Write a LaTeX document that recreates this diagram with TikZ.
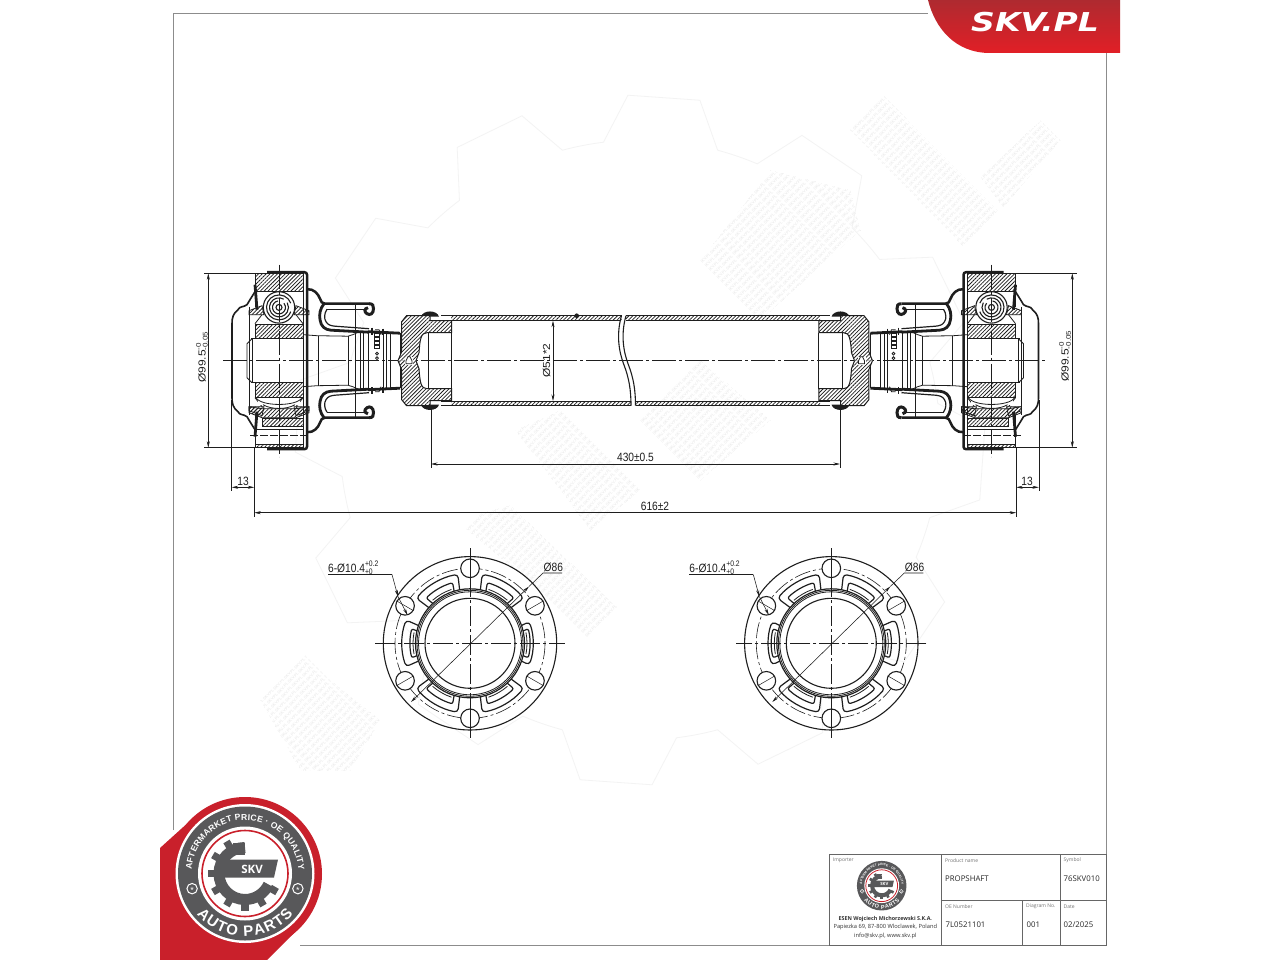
\documentclass[tikz,border=0pt]{standalone}
\usepackage{fontspec}
\setmainfont{Liberation Sans}
\newfontfamily\blockfont{Open Sans}
\newfontfamily\bannerfont{DejaVu Sans}
\usetikzlibrary{arrows.meta,patterns.meta,decorations.text}
\definecolor{ink}{HTML}{1E1E1E}
\definecolor{framegray}{HTML}{8C8C8C}
\definecolor{badgegray}{HTML}{58585A}
\definecolor{badgered}{HTML}{C9202B}
\definecolor{bannerdark}{HTML}{AE2A30}
\definecolor{bannerred}{HTML}{E21F26}
\definecolor{wmgray}{HTML}{E6E6E6}
\definecolor{wmline}{HTML}{F3F3F3}
\tikzset{
  >={Stealth[length=6.5pt,width=3pt]},
  ln/.style={draw=ink,line width=0.8pt},
  heavy/.style={draw=ink,line width=2.5pt},
  hatch/.style={pattern={Lines[angle=45,distance=2.7pt,line width=0.75pt]},pattern color=ink},
  axisline/.style={draw=ink,line width=0.6pt,dash pattern=on 24pt off 3pt on 3pt off 3pt},
  dimline/.style={draw=ink,line width=0.55pt},
  dimlabel/.style={font=\fontsize{12}{12}\selectfont,text=ink,inner sep=0pt,xscale=0.85},
  frameline/.style={draw=framegray,line width=0.8pt},
  caption/.style={font=\blockfont\fontsize{5}{5}\selectfont,text=black!55,anchor=west,inner sep=0pt},
  entry/.style={font=\blockfont\fontsize{7.8}{7.8}\selectfont,text=black!85,anchor=west,inner sep=0pt},
  importer/.style={font=\blockfont\fontsize{5.7}{5.7}\selectfont,text=black!80,inner sep=0pt},
  wmtext/.style={font=\fontsize{4}{4}\selectfont,text=wmgray,inner sep=0pt,rotate=45},
}
\newcommand{\tolpair}[2]{\rlap{\raisebox{5.5pt}{\fontsize{8}{8}\selectfont #1}}\raisebox{-2.5pt}{\fontsize{8}{8}\selectfont #2}}
\newcommand{\wmrow}{SKV.PL SKV.PL SKV.PL SKV.PL SKV.PL SKV.PL SKV.PL SKV.PL SKV.PL SKV.PL SKV.PL SKV.PL SKV.PL SKV.PL SKV.PL SKV.PL SKV.PL SKV.PL SKV.PL SKV.PL SKV.PL SKV.PL SKV.PL SKV.PL}
% one clipped block of the faint background print
\newcommand{\wmpatch}[3]{%
  \begin{scope}
    \clip #3 -- cycle;
    \foreach \k in {-14,...,14}
      \node[wmtext] at ({#1+\k*4},{#2+\k*4}) {\wmrow};
  \end{scope}}
% half of a joint, about the shaft axis; x runs towards the tube
\newcommand{\jointhalf}{%
  \draw[heavy,line width=1.6pt] (-24,-69) -- (-29,-61) -- (-32,-56) .. controls (-36,-53) and (-39,-55) .. (-41,-51) .. controls (-46,-47) and (-47,-43) .. (-47,-37) -- (-47,0);
  \draw[ln] (-30,-54) -- (-30,0);
  \draw[ln] (-24,-69) -- (-24,-54);
  \draw[heavy,line width=2.8pt] (-24,-76) -- (-22,-51);
  \draw[ln] (-32,0) -- (-32,-17) -- (-27,-22);
  \draw[ln] (-27,-22) -- (-27,0);
  \draw[heavy,line width=1.5pt] (-28,-22) -- (25,-22);
  \draw[ln] (24.3,-87) -- (24.3,0);
  \draw[ln] (27,-25) -- (27,0);
  \draw[heavy,rounded corners=2.5pt] (-12,-88.5) -- (28,-88.5) -- (28,0);
  % hub and cage
  \fill[hatch] (-24,-36.7) rectangle (24,-22);
  \draw[ln] (-24,-36.7) rectangle (24,-22);
  \fill[hatch] (-30,-50) -- (-17,-55) -- (-15,-46) -- (-30,-46) -- cycle;
  \draw[ln] (-30,-50) -- (-17,-55) -- (-15,-46) -- (-30,-46) -- cycle;
  \fill[hatch] (30,-50) -- (17,-55) -- (15,-46) -- (30,-46) -- cycle;
  \draw[ln] (30,-50) -- (17,-55) -- (15,-46) -- (30,-46) -- cycle;
  \draw[ln] (-24,-37) -- (-17,-46) (24,-37) -- (17,-46);
  % boot
  \draw[heavy] (28,-71.5) .. controls (35,-72) and (39,-67) .. (41,-62) .. controls (42,-59) and (43,-57) .. (46,-57) -- (90,-57);
  \draw[heavy,line width=3pt] (90,-57) .. controls (94,-57) and (94.5,-55) .. (94.5,-52) .. controls (94.5,-47) and (91,-45) .. (88,-47) .. controls (85,-49) and (85,-52) .. (89,-53);
  \draw[heavy,line width=2.8pt] (45,-57) .. controls (41,-52) and (40,-46) .. (41,-41) .. controls (42,-34) and (46,-31) .. (52,-30.5) -- (90,-28.5);
  \draw[ln] (48,-51.5) -- (86,-51.5);
  \draw[ln,line width=1.2pt] (48,-51.5) .. controls (45,-47) and (45,-42) .. (47,-39) .. controls (49,-35.5) and (52,-35) .. (56,-34.5) -- (90,-32);
  \draw[heavy,line width=2.8pt] (89,-29) -- (121,-27.5);
  % shaft neck
  \draw[ln] (24.3,-26) -- (38,-25) -- (69,-24.5) .. controls (73,-25) and (75,-27) .. (81,-29);
  \foreach \lx/\ly in {39/25,69/24.5,76/57,81/29,84/29,89/29,104/28,107.5/28,111/28,121/27.5}
    \draw[ln] (\lx,-\ly) -- (\lx,0);
  \draw[heavy,line width=1.6pt] (93,-33) -- (93,-26);
  \draw[heavy,line width=1.6pt] (104,-32) -- (104,-26);
  \draw[ln] (96,-31) -- (100,-31) -- (102,-26);
  % weld bead, behind the yoke
  \fill[ink] (142,-44) .. controls (144,-51) and (158,-51) .. (160,-44) -- cycle;
  % yoke
  \fill[white] (119,0) -- (122.7,-9) -- (122.7,-39) -- (127.5,-45) -- (151,-45) -- (151,-40) -- (172.7,-40) -- (172.7,-28) -- (148,-28) .. controls (142,-28) and (141,-22) .. (140,-8) -- (137,0) -- cycle;
  \fill[hatch] (119,0) -- (122.7,-9) -- (122.7,-39) -- (127.5,-45) -- (151,-45) -- (151,-40) -- (172.7,-40) -- (172.7,-28) -- (148,-28) .. controls (142,-28) and (141,-22) .. (140,-8) -- (137,0) -- cycle;
  \draw[ln,line width=1pt] (119,0) -- (122.7,-9) -- (122.7,-39) -- (127.5,-45) -- (151,-45) -- (151,-40) -- (172.7,-40) -- (172.7,-28) -- (148,-28) .. controls (142,-28) and (141,-22) .. (140,-8) -- (137,0);
  \draw[ln] (149.3,-28) -- (149.3,0);
  \draw[ln] (172.7,-28) -- (172.7,0);
}
% complete joint, both halves and the parts that differ
\newcommand{\jointend}{%
  \jointhalf
  \begin{scope}[yscale=-1]
    \jointhalf
  \end{scope}
  % top: hatched block and ball
  \fill[hatch] (-24,-87) rectangle (24,-69);
  \draw[ln] (-24,-87) rectangle (24,-69);
  \fill[white] (0,-53.3) circle[radius=15.7];
  \draw[ln,line width=1.1pt] (0,-53.3) circle[radius=15.7];
  \draw[ln,line width=1.1pt] (0,-53.3) ++(20:12.5pt) arc[start angle=20,end angle=340,radius=12.5pt];
  \draw[ln,line width=1.1pt] (0,-53.3) ++(60:9.5pt) arc[start angle=60,end angle=390,radius=9.5pt];
  \draw[ln,line width=1.1pt] (0,-53.3) ++(100:6.5pt) arc[start angle=100,end angle=400,radius=6.5pt];
  \draw[ln,line width=1.1pt] (0,-53.3) circle[radius=3];
  % bottom: ball seat and bolt bore
  \fill[white] (-21,38) rectangle (21,44);
  \draw[ln] (-23,37) .. controls (-18,46) and (18,46) .. (23,37);
  \draw[ln] (-16,44) .. controls (-8,49) and (8,49) .. (16,44);
  \fill[hatch] (-30,46) -- (-17,48) -- (17,48) -- (30,46) -- (30,52) -- (17,57) -- (-17,57) -- (-30,52) -- cycle;
  \draw[ln] (-30,46) -- (-17,48) -- (17,48) -- (30,46) -- (30,52) -- (17,57) -- (-17,57) -- (-30,52) -- cycle;
  \fill[hatch] (-17,58) rectangle (24,66);
  \draw[ln] (-17,58) rectangle (24,66);
  \draw[ln] (-24,69) -- (24,69);
  \draw[ln,dash pattern=on 8pt off 2pt] (-29,74.3) -- (28,74.3);
  \fill[hatch] (-24,84) rectangle (24,87);
  \draw[ln] (-24,69) -- (-24,87) -- (24,87) -- (24,84) -- (-24,84);
  % vent and grease marks
  \fill[white] (126,-4) rectangle (134,4);
  \draw[ln] (129,-4) -- (131,-4) -- (133,0) -- (133,3) -- (127,3) -- (127,0) -- cycle;
  \foreach \my in {-2.5,-7}
    \draw[ln] (98,\my) circle[radius=1.4];
  \foreach \my in {-12,-16,-20,-24}
    \draw[ln] (95.5,\my) rectangle (100.5,\my-3);
  \draw[axisline] (0,-96) -- (0,96);
}
% end view of the flange
\newcommand{\flangeview}[3]{%
  \begin{scope}[xshift=#2pt]
    \begin{scope}[shift={(470,643.3)},xscale=#3]
      \draw[ln,line width=1.1pt] (0,0) circle[radius=86.7];
      \draw[axisline,dash pattern=on 16pt off 3pt on 3pt off 3pt] (0,0) circle[radius=75];
      \foreach \a in {30,90,...,330} {
        \fill[white] (\a:75pt) circle[radius=9.3pt];
        \draw[ln,line width=1.1pt] (\a:75pt) circle[radius=9.3pt];
        \draw[ln,line width=0.5pt] (\a:65pt) -- (\a:85pt);
      }
      \foreach \a/\ro/\ri in {0/63/60,60/70/63,120/70/63,180/68/60,240/70/63,300/70/63} {
        \begin{scope}[rotate=\a]
          \draw[ln,line width=1.2pt,rounded corners=3.5pt] (-19:54pt) -- (-20:\ro pt) arc[start angle=-20,end angle=20,radius=\ro pt] -- (19:54pt);
          \draw[ln,line width=1.2pt,rounded corners=2pt] (-13:54pt) -- (-14:\ri pt) arc[start angle=-14,end angle=14,radius=\ri pt] -- (13:54pt);
          \draw[ln] (-11:57pt) arc[start angle=-11,end angle=11,radius=57pt];
        \end{scope}
      }
      \fill[white] (0,0) circle[radius=54.5];
      \draw[ln,line width=1.2pt] (0,0) circle[radius=54.5];
      \draw[ln] (0,0) circle[radius=53];
      \draw[ln] (0,0) circle[radius=51.5];
      \draw[ln,line width=1.1pt] (0,0) circle[radius=45];
      \draw[axisline,dash pattern=on 20pt off 3pt on 3pt off 3pt] (-95,0) -- (95,0);
      \draw[axisline,dash pattern=on 20pt off 3pt on 3pt off 3pt] (0,-95) -- (0,95);
    \end{scope}
    \node[dimlabel,anchor=base west] (#1holelabel) at (328,572) {6-Ø10.4\tolpair{+0.2}{+0}};
    \coordinate (#1holeturn) at (392,574.5);
    \coordinate (#1holetop) at (398,596.5);
    \coordinate (#1holebottom) at (407.5,615);
    \draw[dimline] (328,574.5) -- (#1holeturn);
    \draw[dimline,->] (#1holeturn) -- (#1holetop);
    \draw[dimline,->] (#1holetop) -- (#1holebottom);
    \node[dimlabel,anchor=base west] (#1boltlabel) at (543.5,571) {Ø86};
    \coordinate (#1boltturn) at (543,573);
    \coordinate (#1boltend) at (562,573);
    \coordinate (#1boltfar) at (529,586.5);
    \coordinate (#1boltnear) at (411,702);
    \draw[dimline] (#1boltend) -- (#1boltturn) -- (#1boltfar);
    \draw[dimline,<->] (#1boltfar) -- (#1boltnear);
  \end{scope}}
% round badge of the brand
\newcommand{\skvbadge}[3]{%
  \pgfmathsetmacro{\fsa}{8.6*#3}
  \pgfmathsetmacro{\fsb}{15*#3}
  \pgfmathsetmacro{\fsc}{11.5*#3}
  \pgfmathsetmacro{\fsd}{9*#3}
  \begin{scope}[shift={(#1,#2)},scale=#3]
    \fill[white] (0,0) circle[radius=69.5pt];
    \fill[badgegray] (0,0) circle[radius=67pt];
    \fill[white] (0,0) circle[radius=47pt];
    \draw[badgered,line width={1.3*#3+0.3}] (0,0) circle[radius=43pt];
    \draw[badgegray,line width={#3*11pt}] (90:26pt) arc[start angle=90,end angle=335,radius=26pt];
    \foreach \a in {120,150,...,330}
      \fill[badgegray,rotate=\a] (29pt,-3.6pt) rectangle (37pt,3.6pt);
    \foreach \cy in {19,23.5,28}
      \fill[badgegray] (-12pt,\cy pt) rectangle (0pt,\cy pt+2.6pt);
    \fill[badgegray] (-22pt,14pt) -- (33pt,14pt) -- (29pt,-4pt) -- (-22pt,-4pt) -- cycle;
    \node[text=white,inner sep=0pt,font=\blockfont\bfseries\fontsize{\fsc}{\fsc}\selectfont] (badgename) at (7pt,4.5pt) {SKV};
    \path[decorate,decoration={text along path,text align={fit to path},text={|\bfseries\fontsize{\fsa}{\fsa}\selectfont\color{white}|AFTERMARKET PRICE · OE QUALITY}}] (176:53.5pt) arc[start angle=176,end angle=4,radius=53.5pt];
    \path[decorate,decoration={text along path,text align={fit to path},text={|\bfseries\fontsize{\fsb}{\fsb}\selectfont\color{white}|AUTO PARTS}}] (220:63pt) arc[start angle=220,end angle=320,radius=63pt];
    \foreach \a in {196,344} {
      \draw[white,line width={0.9*#3+0.1}] (\a:55pt) circle[radius=5.2pt];
      \node[text=white,inner sep=0pt,yshift=-1.8*#3 pt,font=\fontsize{\fsd}{\fsd}\selectfont] at (\a:55pt) {*};
    }
  \end{scope}}

\begin{document}
\begin{tikzpicture}[x=1pt,y=-1pt]
  \useasboundingbox (0,0) rectangle (1280,960);
  \fill[white] (0,0) rectangle (1280,960);

  % faint background print
  \foreach \a in {0,30,...,330} {
    \begin{scope}[shift={(640,440)},rotate=\a]
      \draw[wmline,line width=0.8pt] (75:300pt) -- (80:345pt) -- (92:345pt) -- (97:300pt) arc[start angle=97,end angle=105,radius=300pt];
    \end{scope}
  }
  \wmpatch{930}{165}{(873,85) -- (840,120) -- (967,250) -- (1000,213)}
  \wmpatch{1020}{165}{(980,177) -- (1040,120) -- (1060,140) -- (1003,207)}
  \wmpatch{780}{240}{(770,170) -- (700,260) -- (760,320) -- (860,230) -- (850,190)}
  \wmpatch{570}{470}{(515,430) -- (560,410) -- (640,490) -- (590,530)}
  \wmpatch{700}{420}{(640,420) -- (700,360) -- (770,420) -- (700,480)}
  \wmpatch{540}{570}{(455,520) -- (510,505) -- (620,610) -- (590,640) -- (540,590)}
  \wmpatch{320}{715}{(260,700) -- (305,655) -- (330,680) -- (380,720) -- (350,770) -- (300,770)}

  % frame
  \draw[frameline] (173,830) -- (173,13) -- (928,13);
  \draw[frameline] (1106,53) -- (1106,945.7) -- (300,945.7);

  % banner
  \shade[top color=bannerdark,bottom color=bannerred] (928,0) -- (1120,0) -- (1120,53) -- (990,53) .. controls (955,53) and (935,28) .. (928,0) -- cycle;
  \node[text=white,inner sep=0pt,xscale=1.27,font=\bannerfont\bfseries\itshape\fontsize{26}{26}\selectfont] (bannername) at (1035,22.5) {SKV.PL};

  % shaft
  \draw[axisline] (223,360.7) -- (1046,360.7);
  \fill[hatch] (451,315.7) rectangle (621.5,320.7);
  \fill[hatch] (451,401) rectangle (631,405.7);
  \fill[hatch] (626,315.7) rectangle (820,320.7);
  \fill[hatch] (635.5,401) rectangle (820,405.7);
  \draw[ln,line width=1pt] (441,315.7) -- (621.5,315.7) (441,320.7) -- (620.5,320.7) (441,405.7) -- (631,405.7) (441,401) -- (630.5,401);
  \draw[ln,line width=1pt] (626,315.7) -- (830,315.7) (625.5,320.7) -- (830,320.7) (635.5,405.7) -- (830,405.7) (635,401) -- (830,401);
  \draw[ln,line width=1.1pt] (621.5,315.7) .. controls (616,335) and (619,352) .. (624,365) .. controls (629,378) and (631,390) .. (631,405.7);
  \draw[ln,line width=1.1pt] (626,315.7) .. controls (620.5,335) and (623.5,352) .. (628.5,365) .. controls (633.5,378) and (635.5,390) .. (635.5,405.7);
  \fill[ink] (576.7,315.7) circle[radius=2.3];

  % joints
  \begin{scope}[shift={(279,360.7)}]
    \jointend
  \end{scope}
  \begin{scope}[shift={(991.5,360.7)},xscale=-1]
    \jointend
  \end{scope}

  % dimensions on the shaft
  \coordinate (leftrimtop) at (255,273.3);
  \coordinate (leftrimbot) at (255,447.7);
  \coordinate (leftdiatop) at (208.3,273.3);
  \coordinate (leftdiabot) at (208.3,447.7);
  \draw[dimline] (leftrimtop) -- (204,273.3);
  \draw[dimline] (leftrimbot) -- (204,447.7);
  \draw[dimline,<->] (leftdiatop) -- (leftdiabot);
  \node[dimlabel,rotate=90,anchor=west] (leftdia) at (202,383) {Ø99.5\tolpair{-0}{-0.05}};
  \coordinate (rightrimtop) at (1016,273.3);
  \coordinate (rightrimbot) at (1016,447.7);
  \coordinate (rightdiatop) at (1072.3,273.3);
  \coordinate (rightdiabot) at (1072.3,447.7);
  \draw[dimline] (rightrimtop) -- (1076.5,273.3);
  \draw[dimline] (rightrimbot) -- (1076.5,447.7);
  \draw[dimline,<->] (rightdiatop) -- (rightdiabot);
  \node[dimlabel,rotate=90,anchor=west] (rightdia) at (1065,382) {Ø99.5\tolpair{-0}{-0.05}};
  \coordinate (tubetop) at (553,320.7);
  \coordinate (tubebot) at (553,401);
  \draw[dimline,<->] (tubetop) -- (tubebot);
  \node[dimlabel,rotate=90] (tubedia) at (546.5,360.5) {Ø51*2};
  \coordinate (weldleft) at (431,464);
  \coordinate (weldright) at (840,464);
  \draw[dimline] (431,408) -- (431,468);
  \draw[dimline] (840,408) -- (840,468);
  \draw[dimline,<->] (weldleft) -- (weldright);
  \node[dimlabel] (weldlabel) at (635.5,457.5) {430±0.5};
  \draw[dimline] (231.7,400) -- (231.7,491);
  \draw[dimline] (254.3,447.7) -- (254.3,517);
  \draw[dimline] (1038.8,400) -- (1038.8,491);
  \draw[dimline] (1016.2,447.7) -- (1016.2,517);
  \coordinate (stepleftA) at (231.7,487.3);
  \coordinate (stepleftB) at (254.3,487.3);
  \coordinate (steprightA) at (1016.2,487.3);
  \coordinate (steprightB) at (1038.8,487.3);
  \draw[dimline,<->] (stepleftA) -- (stepleftB);
  \draw[dimline,<->] (steprightA) -- (steprightB);
  \node[dimlabel] (stepleft) at (243,481) {13};
  \node[dimlabel] (stepright) at (1027,481) {13};
  \coordinate (lengthleft) at (254.3,512.7);
  \coordinate (lengthright) at (1016.2,512.7);
  \draw[dimline,<->] (lengthleft) -- (lengthright);
  \node[dimlabel] (lengthlabel) at (655,506) {616±2};

  % end views
  \flangeview{lf}{0}{1}
  \flangeview{rf}{361.3}{-1}

  % badge
  \fill[badgered] (160,960) -- (160,848) -- (191,820) -- (299,928) -- (267,960) -- cycle;
  \fill[badgered] (245,874) circle[radius=77];
  \skvbadge{245}{873.5}{1}

  % title block
  \draw[frameline,draw=black!60] (829.3,854.3) rectangle (1106,945.7);
  \draw[frameline,draw=black!60] (941.5,854.3) -- (941.5,945.7);
  \draw[frameline,draw=black!60] (941.5,900) -- (1106,900);
  \draw[frameline,draw=black!60] (1060,854.3) -- (1060,945.7);
  \draw[frameline,draw=black!60] (1022.7,900) -- (1022.7,945.7);
  \node[caption] (importerhead) at (832.7,860.3) {Importer};
  \skvbadge{881.7}{885.7}{0.37}
  \node[importer,font=\blockfont\bfseries\fontsize{5.4}{5.4}\selectfont] (importername) at (885.3,918.7) {ESEN Wojciech Michorzewski S.K.A.};
  \node[importer] (importeraddr) at (885.3,927.3) {Papiezka 69, 87-800 Wloclawek, Poland};
  \node[importer] (importermail) at (885.3,935.7) {info@skv.pl, www.skv.pl};
  \node[caption] (namehead) at (945,860.3) {Product name};
  \node[entry] (nameval) at (945,878.5) {PROPSHAFT};
  \node[caption] (symbolhead) at (1063.5,860.3) {Symbol};
  \node[entry] (symbolval) at (1063.5,878.5) {76SKV010};
  \node[caption] (oehead) at (945,906.7) {OE Number};
  \node[entry] (oeval) at (945.5,925) {7L0521101};
  \node[caption] (diaghead) at (1026,906.7) {Diagram No.};
  \node[entry] (diagval) at (1026.5,925) {001};
  \node[caption] (datehead) at (1063.5,906.7) {Date};
  \node[entry] (dateval) at (1063.5,925) {02/2025};
\end{tikzpicture}
\end{document}
